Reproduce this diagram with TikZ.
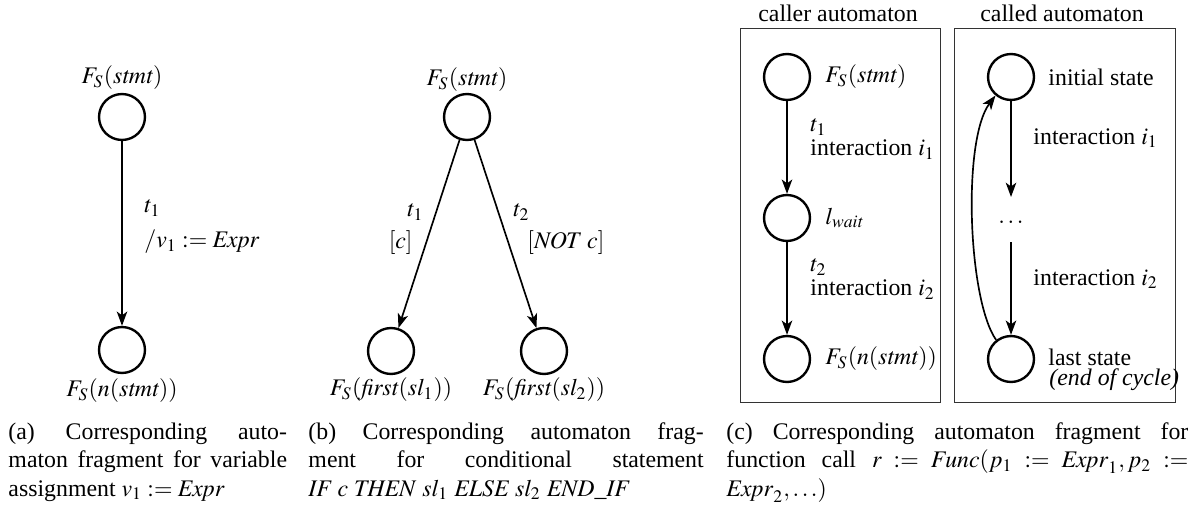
\documentclass[tikz,border=0pt]{standalone}
\usepackage{mathptmx}
\usepackage[no-math]{fontspec}
\setmainfont{Liberation Serif}
\usetikzlibrary{arrows.meta}
\begin{document}
\begin{tikzpicture}[x=0.42pt,y=-0.42pt,
  state/.style={circle,draw,line width=1pt,minimum size=19.3pt,inner sep=0pt},
  arr/.style={line width=0.7pt,-{Stealth[length=6pt,width=4.4pt,inset=1.6pt]}},
  lbl/.style={inner sep=0pt},
  wlbl/.style={inner sep=0pt,anchor=west},
  elbl/.style={inner sep=0pt,anchor=east},
  box/.style={draw=black!80,line width=0.4pt},
  captxt/.style={inner sep=0pt,anchor=north west,align=justify}]
\useasboundingbox (0,0) rectangle (1194,508);

% (a)
\node[state] (a0) at (122,117) {};
\node[lbl] (a0l) at (122,78) {$F_S(\mathit{stmt})$};
\node[state] (a1) at (122,350) {};
\node[lbl] (a1l) at (122,391) {$F_S(n(\mathit{stmt}))$};
\draw[arr] (a0) -- (a1);
\node[wlbl] (at1) at (144,208) {$t_1$};
\node[wlbl] (aex) at (144,242) {$/v_1 := \mathit{Expr}$};

% (b)
\node[state] (b0) at (467,117) {};
\node[lbl] (b0l) at (467,80) {$F_S(\mathit{stmt})$};
\node[state] (b1) at (391,351) {};
\node[lbl] (b1l) at (391,390) {$F_S(\mathit{first}(\mathit{sl}_1))$};
\node[state] (b2) at (544,351) {};
\node[lbl] (b2l) at (544,390) {$F_S(\mathit{first}(\mathit{sl}_2))$};
\draw[arr] (b0) -- (b1);
\draw[arr] (b0) -- (b2);
\node[elbl] (bt1) at (424,212) {$t_1$};
\node[elbl] (bc) at (413,243) {$[c]$};
\node[wlbl] (bt2) at (513,212) {$t_2$};
\node[wlbl] (bnc) at (527,243) {$[\mathit{NOT}\ c]$};

% (c) boxes
\draw[box] (740,28) rectangle (940,402);
\draw[box] (954,28) rectangle (1175,402);
\node[lbl] (ttl1) at (838,13) {caller automaton};
\node[lbl] (ttl2) at (1062,13) {called automaton};

% caller
\node[state] (c0) at (787,77) {};
\node[state] (c1) at (787,218) {};
\node[state] (c2) at (787,359) {};
\node[wlbl] (c0l) at (825,77) {$F_S(\mathit{stmt})$};
\node[wlbl] (c1l) at (825,218) {$l_{\mathit{wait}}$};
\node[wlbl] (c2l) at (825,359) {$F_S(n(\mathit{stmt}))$};
\draw[arr] (c0) -- (c1);
\draw[arr] (c1) -- (c2);
\node[wlbl,align=left] (ct1) at (810,139) {$t_1$\\[-1.8pt]interaction $i_1$};
\node[wlbl,align=left] (ct2) at (810,279) {$t_2$\\[-1.8pt]interaction $i_2$};

% called
\node[state] (d0) at (1011,77) {};
\node[state] (d1) at (1011,359) {};
\node[lbl] (dots) at (1011,222) {$\dots$};
\coordinate (dtop) at (1011,197);
\coordinate (dbot) at (1011,242);
\draw[arr] (d0) -- (dtop);
\draw[arr] (dbot) -- (d1);
\draw[arr] (d1.128) .. controls (968,300) and (962,140) .. (d0.230);
\node[wlbl] (d0l) at (1048,77) {initial state};
\node[wlbl] (di1) at (1033,138) {interaction $i_1$};
\node[wlbl] (di2) at (1033,279) {interaction $i_2$};
\node[wlbl] (d1l) at (1048,357) {last state};
\node[wlbl] (d1e) at (1049,380) {\textit{(end of cycle)}};

% captions
\node[captxt,text width=117pt] (capa) at (8,422) {(a) Corresponding auto-\linebreak maton fragment for variable\linebreak assignment $v_1 := \mathit{Expr}$};
\node[captxt,text width=166pt] (capb) at (308,422) {(b) Corresponding automaton frag-\linebreak ment for conditional statement\linebreak $\mathit{IF}\ c\ \mathit{THEN}\ \mathit{sl}_1\ \mathit{ELSE}\ \mathit{sl}_2\ \mathit{END\_IF}$};
\node[captxt,text width=194pt] (capc) at (726,422) {(c) Corresponding automaton fragment for\linebreak function call $r := \mathit{Func}(p_1 := \mathit{Expr}_1, p_2 :=$\linebreak $\mathit{Expr}_2, \ldots)$};
\end{tikzpicture}
\end{document}
